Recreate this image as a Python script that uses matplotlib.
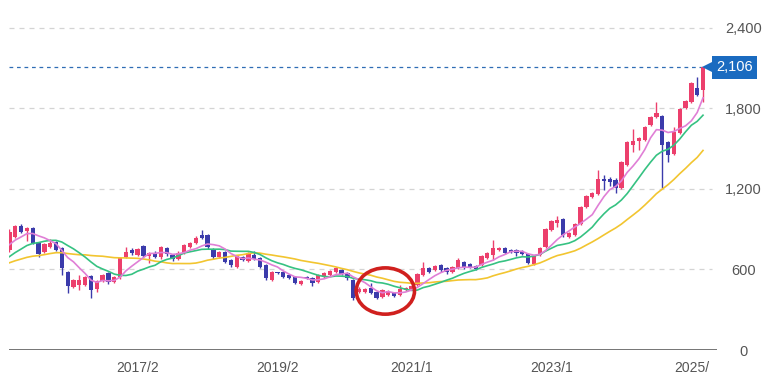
import numpy as np
import pandas as pd
import matplotlib
matplotlib.use("Agg")
import matplotlib.pyplot as plt
from matplotlib.patches import Ellipse
from matplotlib.transforms import blended_transform_factory

plt.rcParams['font.family'] = ['Liberation Sans', 'DejaVu Sans']

# ── Monthly candles, 2015/4 .. 2025/3 ───────────────────────────────────
MONTHS = pd.period_range('2015-04', periods=120, freq='M')

OPENS = [745, 842, 924, 887, 909, 797, 730, 768, 805, 760,
         581, 470, 484, 484, 551, 455, 514, 574, 507, 544,
         693, 745, 708, 775, 700, 723, 693, 760, 708, 678,
         723, 768, 797, 857, 857, 753, 693, 730, 671, 619,
         693, 663, 708, 686, 634, 522, 581, 581, 559, 544,
         492, 544, 537, 507, 544, 559, 581, 596, 574, 522,
         432, 432, 462, 432, 395, 410, 425, 410, 447, 455,
         484, 559, 611, 596, 634, 611, 581, 611, 656, 641,
         626, 634, 686, 708, 745, 760, 745, 745, 738, 715,
         641, 708, 768, 894, 947, 976, 842, 857, 939, 1066,
         1140, 1163, 1274, 1274, 1267, 1207, 1379, 1528, 1558, 1565,
         1677, 1737, 1744, 1550, 1460, 1617, 1804, 1848, 1953, 1938]
CLOSES = [880, 924, 880, 909, 797, 715, 790, 797, 745, 611,
          477, 522, 522, 544, 447, 514, 559, 507, 544, 686,
          730, 723, 753, 700, 723, 693, 768, 715, 678, 723,
          783, 797, 835, 835, 768, 693, 730, 656, 634, 700,
          671, 723, 678, 619, 537, 581, 574, 544, 537, 499,
          514, 537, 499, 559, 574, 589, 611, 566, 537, 388,
          455, 455, 425, 388, 447, 440, 402, 455, 462, 477,
          566, 611, 581, 626, 596, 581, 619, 671, 611, 619,
          604, 700, 723, 760, 760, 723, 730, 723, 715, 648,
          700, 760, 902, 961, 969, 857, 872, 939, 1066, 1148,
          1170, 1274, 1260, 1252, 1207, 1401, 1550, 1558, 1580, 1662,
          1737, 1766, 1528, 1453, 1625, 1796, 1856, 1990, 1900, 2106]
HIGHS = [900, 935, 940, 920, 920, 800, 800, 830, 815, 770,
         590, 530, 560, 550, 560, 520, 565, 580, 550, 695,
         768, 760, 760, 785, 730, 735, 775, 770, 715, 735,
         790, 805, 850, 895, 865, 760, 740, 740, 680, 710,
         700, 730, 738, 695, 640, 590, 585, 590, 565, 550,
         520, 550, 545, 570, 580, 595, 620, 605, 580, 530,
         470, 465, 499, 440, 455, 448, 430, 485, 470, 485,
         575, 656, 620, 635, 640, 615, 625, 686, 665, 650,
         635, 710, 730, 820, 770, 770, 755, 755, 745, 720,
         710, 770, 910, 970, 999, 985, 880, 950, 1075, 1155,
         1180, 1342, 1304, 1290, 1280, 1410, 1560, 1647, 1590, 1670,
         1745, 1848, 1755, 1560, 1662, 1805, 1865, 2000, 2035, 2110]
LOWS = [730, 835, 870, 812, 790, 690, 720, 760, 735, 560,
        425, 465, 447, 475, 388, 430, 505, 495, 500, 530,
        685, 710, 700, 690, 648, 685, 680, 700, 665, 670,
        715, 760, 790, 825, 755, 680, 685, 645, 620, 610,
        660, 655, 670, 610, 520, 515, 565, 535, 530, 490,
        485, 530, 480, 500, 535, 550, 575, 560, 525, 370,
        425, 425, 420, 380, 388, 405, 395, 405, 440, 450,
        478, 550, 575, 590, 585, 570, 575, 605, 600, 610,
        595, 625, 680, 671, 740, 715, 720, 700, 705, 640,
        635, 700, 760, 885, 917, 840, 835, 850, 930, 1060,
        1130, 1155, 1192, 1220, 1170, 1200, 1370, 1476, 1490, 1555,
        1670, 1730, 1207, 1401, 1455, 1610, 1795, 1840, 1890, 1850]

# closes of the 23 months before the first candle (only feed the moving averages)
WARMUP_CLOSES = [560, 580, 600, 590, 610, 620, 600, 590, 610, 630, 640, 620,
                 560, 570, 590, 610, 640, 670, 720, 740, 760, 790, 820]

MA_WINDOWS = [6, 12, 24]
MA_COLORS = ['#e07fd6', '#36c282', '#f2c530']

X_LABELS = {'2017-02': '2017/2', '2019-02': '2019/2', '2021-01': '2021/1',
            '2023-01': '2023/1', '2025-01': '2025/'}
Y_TICKS = [0, 600, 1200, 1800, 2400]
CIRCLED = (60, 69)   # months highlighted by the red ring

UP_COLOR = '#ec3f6c'
DOWN_COLOR = '#3b3bab'
TAG_COLOR = '#1a6bc0'

fig = plt.figure(figsize=(7.77, 3.85), dpi=100)
ax = fig.add_axes([8.5 / 777, 35 / 385, 708.5 / 777, 340 / 385])

x = np.arange(len(MONTHS))
o = np.array(OPENS, dtype=float)
c = np.array(CLOSES, dtype=float)
h = np.array(HIGHS, dtype=float)
l = np.array(LOWS, dtype=float)
up = c >= o
colors = np.where(up, UP_COLOR, DOWN_COLOR)

# grid
for v in Y_TICKS[1:]:
    ax.axhline(v, xmax=0.993, color='#d4d4d4', lw=0.9, ls=(0, (4, 4)), zorder=0)
ax.axhline(0, color='#6a6a6a', lw=1.3, zorder=1)

# candles
ax.vlines(x, l, h, colors=colors, lw=1.0, zorder=2)
body = np.maximum(np.abs(c - o), 10)
ax.bar(x, body, bottom=np.minimum(o, c), width=0.74, color=colors, zorder=2)

# moving averages
series = pd.Series(WARMUP_CLOSES + CLOSES, dtype=float)
n_warm = len(WARMUP_CLOSES)
for w, col in zip(MA_WINDOWS[::-1], MA_COLORS[::-1]):
    ma = series.rolling(w, min_periods=1).mean().to_numpy()[n_warm:]
    ax.plot(x, ma, color=col, lw=1.2, zorder=3)

# last price line + tag
last = CLOSES[-1]
ax.axhline(last, xmax=0.983, color='#2f6db5', lw=0.9, ls=(0, (3, 3)), zorder=1)
trans = blended_transform_factory(ax.transAxes, ax.transData)
ax.plot([0.9875], [last], marker='<', ms=8, color=TAG_COLOR, mew=0,
        transform=trans, clip_on=False, zorder=5)
ax.text(0.9985, last, f'{last:,}', transform=trans, ha='left', va='center',
        color='white', fontsize=10.5, clip_on=False, zorder=6,
        bbox=dict(boxstyle='square,pad=0.28', fc=TAG_COLOR, ec='none'))

# red ring around the 2020 bottom
i0, i1 = CIRCLED
seg_lo = min(LOWS[i0:i1 + 1])
seg_hi = max(HIGHS[i0:i1 + 1])
ax.add_patch(Ellipse(((i0 + i1) / 2, (seg_lo + seg_hi) / 2), width=10, height=345,
                     fill=False, ec='#d0201e', lw=2.6, zorder=4))

ax.set_xlim(-0.15, 121.4)
ax.set_ylim(0, 2534)

month_keys = [str(m) for m in MONTHS]
ax.set_xticks([month_keys.index(k) for k in X_LABELS])
ax.set_xticklabels(list(X_LABELS.values()))
ax.tick_params(axis='x', length=0, pad=8, labelsize=10, labelcolor='#555555')

ax.yaxis.tick_right()
ax.set_yticks(Y_TICKS)
ax.set_yticklabels([f'{v:,}' for v in Y_TICKS])
ax.tick_params(axis='y', length=0, pad=19, labelsize=10.5, labelcolor='#555555')
for t in ax.get_yticklabels():
    t.set_horizontalalignment('center')

for s in ax.spines.values():
    s.set_visible(False)

fig.savefig('out.png', dpi=100)
